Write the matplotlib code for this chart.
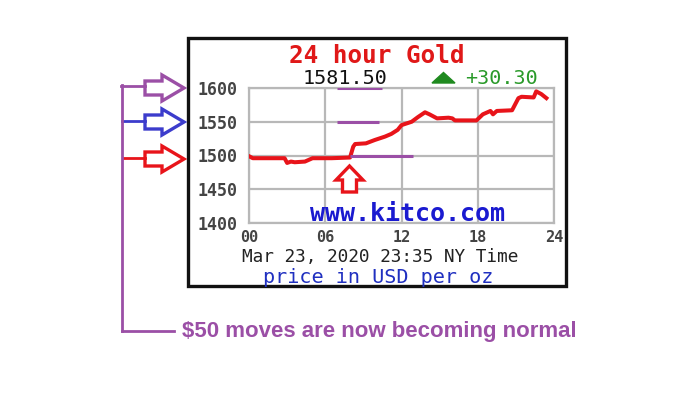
import matplotlib
matplotlib.use("Agg")
import matplotlib.pyplot as plt
from matplotlib.patches import Polygon, Rectangle

# ---- data ----
hours = [0, 0.3, 2.8, 3.0, 3.3, 3.6, 4.4, 5.0, 6.5, 7.95, 8.2, 8.35, 9.2, 9.9,
         10.7, 11.2, 11.7, 12.0, 12.8, 13.3, 13.85, 14.2, 14.8, 15.7, 16.0,
         16.2, 17.9, 18.4, 19.0, 19.2, 19.5, 20.7, 21.2, 21.45, 22.4, 22.6,
         23.0, 23.4]
prices = [1499, 1496, 1496, 1489, 1491, 1490, 1491, 1496, 1496, 1497, 1513,
          1517, 1518, 1523, 1528, 1532, 1538, 1545, 1550, 1557, 1564, 1561,
          1555, 1556, 1555, 1552, 1552, 1561, 1566, 1561, 1566, 1567, 1585,
          1587, 1586, 1595, 1591, 1585]
x_ticks = [0, 6, 12, 18, 24]
x_labels = ["00", "06", "12", "18", "24"]
y_ticks = [1400, 1450, 1500, 1550, 1600]
level_marks = [1600, 1550, 1500]
level_start = [6.92, 6.92, 7.95]
level_end = [10.5, 10.2, 12.9]
title = "24 hour Gold"
last_price = "1581.50"
change = "+30.30"
stamp = "Mar 23, 2020 23:35 NY Time"
unit = "price in USD per oz"
site = "www.kitco.com"
note = "$50 moves are now becoming normal"

W, H = 681, 412
fig = plt.figure(figsize=(W / 100, H / 100), dpi=100)

PURPLE = "#9b4fa6"
BLUE = "#3c3ccc"
RED = "#e8141a"
MONO = "DejaVu Sans Mono"

# ---- chart axes ----
L, R, T, B = 249, 554, 88, 223
ax = fig.add_axes([L / W, (H - B) / H, (R - L) / W, (B - T) / H])
ax.plot(hours, prices, color=RED, lw=2.9, solid_joinstyle="round", zorder=3)
ax.set_xlim(0, 24)
ax.set_ylim(1400, 1600)
ax.set_xticks(x_ticks)
ax.set_xticklabels(x_labels)
ax.set_yticks(y_ticks)
ax.grid(True, color="#b8b8b8", lw=1.6, zorder=1)
for s in ax.spines.values():
    s.set_color("#b8b8b8")
    s.set_linewidth(1.6)
ax.tick_params(axis="y", length=0, pad=8, labelsize=12, labelcolor="#444444")
ax.tick_params(axis="x", length=0, pad=5, labelsize=11, labelcolor="#444444")
for lab in ax.get_xticklabels() + ax.get_yticklabels():
    lab.set_fontfamily(MONO)
    lab.set_fontweight("bold")
ax.hlines(level_marks, level_start, level_end, color=PURPLE, lw=2.2, zorder=4)

# ---- overlay in pixel coordinates ----
ov = fig.add_axes([0, 0, 1, 1], zorder=5)
ov.set_xlim(0, W)
ov.set_ylim(H, 0)
ov.axis("off")

ov.add_patch(Rectangle((188, 38), 378, 248, fill=False, ec="#111111", lw=2.4))

ov.text(377, 56, title, ha="center", va="center", fontsize=17.5,
        fontweight="bold", family=MONO, color="#e01818")
ov.text(345, 78, last_price, ha="center", va="center", fontsize=14.5,
        family=MONO, color="#111111")
ov.add_patch(Polygon([(432, 83), (455, 83), (443.5, 72.5)], closed=True,
                     color="#1f8a1f"))
ov.text(501, 78, change, ha="center", va="center", fontsize=14.5,
        family=MONO, color="#2a9a2a")
ov.text(408, 221, site, ha="center", va="baseline", fontsize=18,
        fontweight="bold", family=MONO, color="#1a1ad0")
ov.text(380, 257, stamp, ha="center", va="center", fontsize=12.8,
        family=MONO, color="#222222")
ov.text(378, 283, unit, ha="center", va="baseline", fontsize=14.5,
        family=MONO, color="#2030c0")


def right_arrow(cy, color):
    x0, xb, xt, th, hh = 145, 162, 184, 7, 13
    pts = [(x0, cy - th), (xb, cy - th), (xb, cy - hh), (xt, cy),
           (xb, cy + hh), (xb, cy + th), (x0, cy + th)]
    ov.add_patch(Polygon(pts, closed=True, fc="white", ec=color, lw=2.4,
                         joinstyle="miter"))


right_arrow(88, PURPLE)
right_arrow(122, BLUE)
right_arrow(159, RED)
ov.plot([121, 145], [86, 86], color=PURPLE, lw=2)
ov.plot([122, 145], [121, 121], color=BLUE, lw=2)
ov.plot([124, 145], [158, 158], color=RED, lw=2)
ov.plot([122, 122], [85, 331], color=PURPLE, lw=2)
ov.plot([122, 174], [331, 331], color=PURPLE, lw=2)

# up arrow under the jump
cx = 349.5
up = [(cx - 7, 192), (cx - 7, 180), (cx - 13.5, 180), (cx, 166),
      (cx + 13.5, 180), (cx + 7, 180), (cx + 7, 192)]
ov.add_patch(Polygon(up, closed=True, fc="white", ec=RED, lw=2.4,
                     joinstyle="miter"))

ov.text(182, 331, note, ha="left", va="center", fontsize=16,
        fontweight="bold", family="Liberation Sans", color=PURPLE)

fig.savefig("out.png", dpi=100, facecolor="white")
